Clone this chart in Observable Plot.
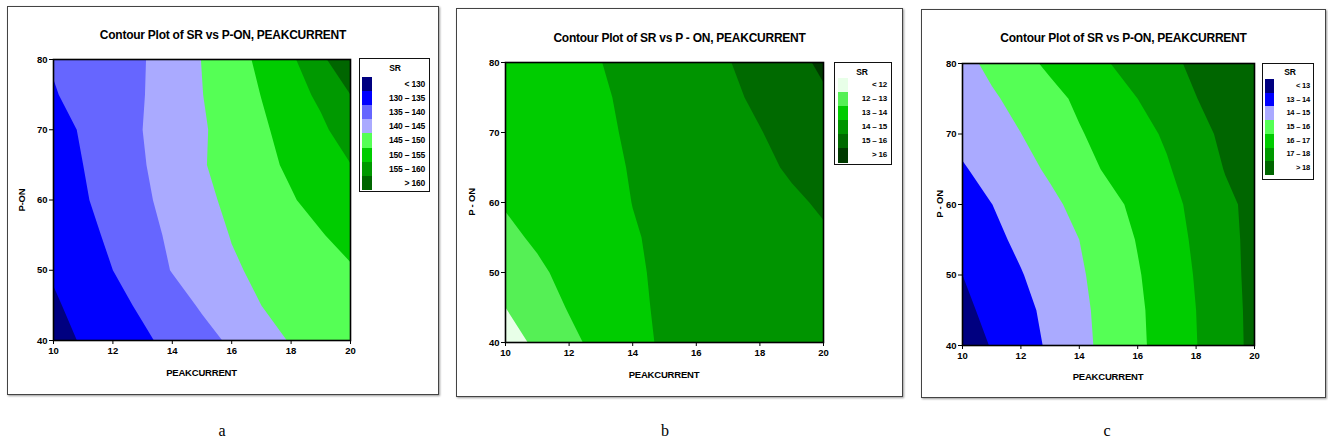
<!DOCTYPE html>
<html>
<head>
<meta charset="utf-8">
<script src="https://cdn.jsdelivr.net/npm/d3@7"></script>
<script src="https://cdn.jsdelivr.net/npm/@observablehq/plot@0.6"></script>
<style>
  html, body { margin: 0; padding: 0; background: #fff; }
  body { width: 1328px; height: 446px; position: relative; overflow: hidden; font-family: "Liberation Sans", Arial, sans-serif; color: #000; }
  .box { position: absolute; border: 1px solid #444; box-shadow: 1px 1px 2px #999; background: #fff; box-sizing: border-box; }
  .txt { position: absolute; white-space: nowrap; line-height: 1; }
  .title { font-weight: bold; font-size: 12px; letter-spacing: -0.25px; transform: translate(-50%, -50%); }
  .axlab { font-weight: bold; font-size: 9.5px; letter-spacing: -0.2px; transform: translate(-50%, -50%); }
  .ylab { transform: translate(-50%, -50%) rotate(-90deg); }
  .legend { position: absolute; border: 1.5px solid #111; background: #fff; box-sizing: border-box; }
  .lgtxt { font-weight: bold; font-size: 8.5px; letter-spacing: -0.2px; }
  .sub { font-family: "Liberation Serif", "Times New Roman", serif; font-size: 16px; transform: translate(-50%, -50%); }
</style>
</head>
<body>
<script>
// ---------- data ----------
const peakCurrent = [10, 11, 12, 13, 14, 15, 16, 17, 18, 19, 20];   // grid columns (x)
const pOn = [80, 75, 70, 65, 60, 55, 50, 45, 40];                    // grid rows (y), top to bottom
const xTicks = [10, 12, 14, 16, 18, 20];
const yTicks = [40, 50, 60, 70, 80];

// panel a : SR surface
const srA = [
  [135.4, 136.9, 138.3, 139.7, 142.3, 145.1, 148.0, 151.0, 154.2, 158.9, 164.2],
  [134.7, 136.4, 138.1, 139.8, 142.3, 144.9, 147.5, 150.1, 152.9, 156.0, 160.0],
  [133.2, 135.5, 137.7, 140.0, 142.3, 144.5, 146.9, 149.3, 151.7, 154.0, 157.7],
  [132.7, 135.0, 137.3, 139.7, 142.0, 144.7, 146.5, 148.7, 150.8, 152.9, 154.9],
  [132.2, 134.5, 136.9, 139.2, 141.5, 143.9, 146.0, 147.8, 149.6, 151.7, 153.8],
  [131.1, 133.5, 136.0, 138.4, 140.8, 143.0, 145.2, 146.7, 148.2, 149.7, 151.7],
  [130.5, 132.7, 135.0, 137.6, 140.2, 142.3, 144.4, 145.9, 147.1, 148.3, 149.5],
  [129.4, 131.5, 133.6, 135.7, 138.1, 140.5, 142.7, 145.0, 146.1, 147.2, 148.3],
  [128.5, 130.4, 132.3, 134.2, 136.3, 138.5, 140.7, 143.2, 145.3, 146.5, 147.6]
];
const breaksA = [130, 135, 140, 145, 150, 155, 160];
const labelsA = ["< 130", "130 – 135", "135 – 140", "140 – 145", "145 – 150", "150 – 155", "155 – 160", "> 160"];
const coloursA = ["#000080", "#0000ff", "#6666ff", "#aaaaff", "#55ff55", "#00cc00", "#009900", "#006600"];

// panel b : SR surface
const srB = [
  [13.20, 13.46, 13.72, 13.99, 14.23, 14.47, 14.72, 14.96, 15.34, 15.74, 16.15],
  [13.15, 13.41, 13.67, 13.91, 14.16, 14.39, 14.62, 14.85, 15.14, 15.51, 15.89],
  [13.10, 13.36, 13.61, 13.87, 14.10, 14.32, 14.54, 14.76, 14.97, 15.26, 15.55],
  [13.05, 13.30, 13.56, 13.81, 14.05, 14.25, 14.46, 14.66, 14.86, 15.08, 15.35],
  [13.06, 13.27, 13.52, 13.76, 14.01, 14.19, 14.36, 14.54, 14.72, 14.90, 15.08],
  [12.83, 13.11, 13.39, 13.67, 13.95, 14.13, 14.29, 14.45, 14.61, 14.76, 14.92],
  [12.50, 12.87, 13.21, 13.54, 13.92, 14.10, 14.27, 14.43, 14.60, 14.77, 14.93],
  [12.00, 12.54, 13.06, 13.43, 13.90, 14.08, 14.25, 14.42, 14.58, 14.75, 14.92],
  [11.58, 12.18, 12.78, 13.29, 13.85, 14.07, 14.23, 14.40, 14.57, 14.73, 14.90]
];
const breaksB = [12, 13, 14, 15, 16];
const labelsB = ["< 12", "12 – 13", "13 – 14", "14 – 15", "15 – 16", "> 16"];
const coloursB = ["#e8ffe8", "#55f055", "#00cc00", "#009400", "#006a00", "#003a00"];

// panel c : SR surface
const srC = [
  [14.72, 15.22, 15.72, 16.17, 16.57, 16.97, 17.38, 17.78, 18.18, 18.58, 18.98],
  [14.45, 14.87, 15.30, 15.73, 16.16, 16.58, 17.00, 17.49, 17.98, 18.38, 18.78],
  [14.25, 14.62, 14.99, 15.46, 15.93, 16.32, 16.70, 17.12, 17.70, 18.19, 18.59],
  [13.92, 14.31, 14.71, 15.13, 15.65, 16.13, 16.52, 16.91, 17.46, 18.04, 18.44],
  [13.52, 13.99, 14.40, 14.80, 15.25, 15.74, 16.22, 16.71, 17.23, 17.80, 18.26],
  [13.34, 13.77, 14.19, 14.60, 15.00, 15.52, 16.05, 16.59, 17.14, 17.75, 18.24],
  [13.00, 13.48, 13.95, 14.42, 14.88, 15.40, 15.93, 16.49, 17.06, 17.72, 18.23],
  [12.78, 13.26, 13.73, 14.24, 14.79, 15.32, 15.85, 16.42, 17.00, 17.68, 18.21],
  [12.52, 13.05, 13.59, 14.14, 14.73, 15.29, 15.82, 16.39, 16.97, 17.66, 18.20]
];
const breaksC = [13, 14, 15, 16, 17, 18];
const labelsC = ["< 13", "13 – 14", "14 – 15", "15 – 16", "16 – 17", "17 – 18", "> 18"];
const coloursC = ["#000080", "#0000ff", "#aaaaff", "#55ff55", "#00cc00", "#009900", "#006600"];

const titles = ["Contour Plot of SR vs P-ON, PEAKCURRENT", "Contour Plot of SR vs P - ON, PEAKCURRENT", "Contour Plot of SR vs P-ON, PEAKCURRENT"];
const yTitles = ["P-ON", "P - ON", "P - ON"];
const xTitle = "PEAKCURRENT";
const subLabels = ["a", "b", "c"];

// ---------- helpers ----------
function addText(cls, text, x, y, extra = {}) {
  const d = document.createElement("div");
  d.className = "txt " + cls;
  d.textContent = text;
  d.style.left = x + "px";
  d.style.top = y + "px";
  Object.assign(d.style, extra);
  document.body.appendChild(d);
  return d;
}

function drawPanel(cfg) {
  const { box, frame, title, titleY, yTitle, yTitleX, xTitleY, values, breaks, colours, labels, legend, sub, subX } = cfg;

  const b = document.createElement("div");
  b.className = "box";
  Object.assign(b.style, { left: box.l + "px", top: box.t + "px", width: (box.r - box.l) + "px", height: (box.b - box.t) + "px" });
  document.body.appendChild(b);

  const mL = 40, mR = 10, mT = 10, mB = 24;
  const fw = frame.r - frame.l, fh = frame.b - frame.t;
  const flat = values.flat();
  const thresholds = [Math.floor(d3.min(flat)) - 1, ...breaks];
  const dx = peakCurrent[1] - peakCurrent[0];
  const dy = pOn[0] - pOn[1];

  const chart = Plot.plot({
    width: fw + mL + mR,
    height: fh + mT + mB,
    marginLeft: mL, marginRight: mR, marginTop: mT, marginBottom: mB,
    style: { background: "transparent", fontFamily: "Liberation Sans, Arial, sans-serif", fontSize: "9.5px", fontWeight: "bold", color: "#000" },
    x: { domain: [peakCurrent[0], peakCurrent[peakCurrent.length - 1]] },
    y: { domain: [pOn[pOn.length - 1], pOn[0]] },
    color: { type: "threshold", domain: breaks, range: colours },
    marks: [
      Plot.contour(flat, {
        width: peakCurrent.length, height: pOn.length,
        x1: peakCurrent[0] - dx / 2, x2: peakCurrent[peakCurrent.length - 1] + dx / 2,
        y1: pOn[0] + dy / 2, y2: pOn[pOn.length - 1] - dy / 2,
        fill: Plot.identity, thresholds, stroke: "none", clip: true
      }),
      Plot.frame({ stroke: "#000", strokeWidth: 1.6 }),
      Plot.axisX({ ticks: xTicks, tickSize: 4, tickPadding: 3, label: null, tickFormat: d => String(d) }),
      Plot.axisY({ ticks: yTicks, tickSize: 4, tickPadding: 2, label: null, tickFormat: d => String(d) })
    ]
  });
  chart.style.position = "absolute";
  chart.style.left = (frame.l - mL) + "px";
  chart.style.top = (frame.t - mT) + "px";
  document.body.appendChild(chart);

  addText("title", title, (box.l + box.r) / 2, titleY);
  addText("axlab", xTitle, (frame.l + frame.r) / 2, xTitleY);
  addText("axlab ylab", yTitle, yTitleX, (frame.t + frame.b) / 2);

  // legend
  const lg = document.createElement("div");
  lg.className = "legend";
  Object.assign(lg.style, { left: legend.l + "px", top: legend.t + "px", width: (legend.r - legend.l) + "px", height: (legend.b - legend.t) + "px" });
  document.body.appendChild(lg);
  addText("lgtxt", "SR", legend.titleX, legend.titleY, { transform: "translate(-50%,-50%)" });
  labels.forEach((lab, i) => {
    const top = legend.rowTop + i * legend.rowH;
    const sw = document.createElement("div");
    Object.assign(sw.style, { position: "absolute", left: legend.swX + "px", top: top + "px", width: legend.swW + "px", height: (legend.rowH + 0.6) + "px", background: colours[i] });
    document.body.appendChild(sw);
    addText("lgtxt", lab, legend.labR, top + legend.rowH / 2, { transform: "translate(-100%,-50%)", fontSize: legend.fs + "px" });
  });

  addText("sub", sub, subX, 431);
}

drawPanel({
  box: { l: 7, t: 6, r: 439, b: 395 },
  frame: { l: 53, t: 59, r: 350, b: 340 },
  title: titles[0], titleY: 35, yTitle: yTitles[0], yTitleX: 22, xTitleY: 373,
  values: srA, breaks: breaksA, colours: coloursA, labels: labelsA,
  legend: { l: 359, t: 58, r: 430, b: 192, titleX: 395, titleY: 68, swX: 362, swW: 10, rowTop: 77, rowH: 14.1, labR: 425, fs: 8.5 },
  sub: subLabels[0], subX: 222
});
drawPanel({
  box: { l: 456, t: 8, r: 903, b: 397 },
  frame: { l: 505, t: 62, r: 823, b: 342 },
  title: titles[1], titleY: 38, yTitle: yTitles[1], yTitleX: 472, xTitleY: 375,
  values: srB, breaks: breaksB, colours: coloursB, labels: labelsB,
  legend: { l: 834, t: 62, r: 892, b: 165, titleX: 862, titleY: 72, swX: 838, swW: 10, rowTop: 78, rowH: 14, labR: 887, fs: 8 },
  sub: subLabels[1], subX: 665
});
drawPanel({
  box: { l: 921, t: 9, r: 1326, b: 398 },
  frame: { l: 962, t: 63, r: 1254, b: 345 },
  title: titles[2], titleY: 38, yTitle: yTitles[2], yTitleX: 940, xTitleY: 377,
  values: srC, breaks: breaksC, colours: coloursC, labels: labelsC,
  legend: { l: 1262, t: 63, r: 1314, b: 180, titleX: 1290, titleY: 72, swX: 1265, swW: 9, rowTop: 79, rowH: 13.7, labR: 1310, fs: 7.5 },
  sub: subLabels[2], subX: 1107
});
</script>
</body>
</html>
